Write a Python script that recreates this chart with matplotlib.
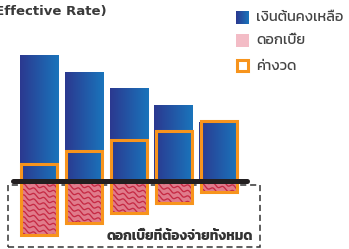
import numpy as np
import matplotlib
matplotlib.use("Agg")
import matplotlib.pyplot as plt
from matplotlib import font_manager
from matplotlib.font_manager import FontProperties
from matplotlib.patches import Rectangle
from matplotlib.colors import LinearSegmentedColormap

# values (pixel-ish units above / below the baseline)
periods = [1, 2, 3, 4, 5]
remaining = [126, 109, 93, 76, 59]        # เงินต้นคงเหลือ
principal_paid = [17, 30, 41, 50, 60]
interest = [54, 42, 32, 22, 11]           # ดอกเบี้ย
installment = [p + i for p, i in zip(principal_paid, interest)]  # ค่างวด
title = "(Effective Rate)"
legend_labels = ["เงินต้นคงเหลือ", "ดอกเบี้ย", "ค่างวด"]
total_label = "ดอกเบี้ยที่ต้องจ่ายทั้งหมด"

fonts = font_manager.fontManager.ttflist
names = {f.name for f in fonts}


def pick(prefs):
    for n in prefs:
        if n in names:
            return n
    return "DejaVu Sans"


thai = pick(["Kanit", "Prompt", "Mitr", "Athiti", "Bai Jamjuree", "K2D",
             "Noto Sans Thai", "Sarabun"])

# bold geometric face for the title, if a static bold file exists
title_fp = FontProperties(family="DejaVu Sans", weight="bold", size=9.5)
for f in fonts:
    if f.name == "Montserrat" and f.fname.endswith("Montserrat-Bold.ttf"):
        title_fp = FontProperties(fname=f.fname, size=10.5)
        break

blue_cmap = LinearSegmentedColormap.from_list("b", ["#2B3990", "#1A74BB"])
orange = "#F7941D"
pink = "#E07B8B"
wave = "#C62A44"

fig = plt.figure(figsize=(3.49, 2.49), dpi=100)
ax = fig.add_axes([0, 0, 1, 1])
ax.axis("off")
step = 44.75
x = np.arange(len(periods))
w_bar = 39 / step
w_box = 36 / step

grad = np.linspace(0, 1, 64).reshape(1, -1)
bars = ax.bar(x, remaining, width=w_bar, color="none", zorder=2)
for b in bars:
    ax.imshow(grad, cmap=blue_cmap, aspect="auto", zorder=2,
              extent=[b.get_x(), b.get_x() + b.get_width(), 0, b.get_height()])

pinks = ax.bar(x, [-v for v in interest], width=w_box, color=pink, zorder=3,
               edgecolor="white", linewidth=0.6, linestyle=(0, (2, 2)))
# wavy texture, clipped to each pink bar
u = np.linspace(0, 40, 240)
for b in pinks:
    x0 = b.get_x()
    for c in np.arange(0, -100, -5.5):
        yy = c + 24 - 0.40 * u + 1.5 * np.sin(2 * np.pi * u / 10)
        ln, = ax.plot(x0 + u / step, yy, color=wave, lw=0.95, zorder=4)
        ln.set_clip_path(b)

ax.bar(x, installment, bottom=[-v for v in interest], width=w_box,
       fill=False, edgecolor=orange, linewidth=2.2, zorder=5)

ax.plot([x[0] - 0.59, x[-1] + 0.64], [0, 0], color="#231F20", lw=3.6,
        solid_capstyle="round", zorder=6)

ax.add_patch(Rectangle((x[0] - 0.704, -66), 5.631, 62, fill=False,
                       edgecolor="#333333", lw=1.1, ls=(0, (4, 2.5)), zorder=1))
ax.text(x[-1] + 0.78, -55, total_label, ha="right", va="center",
        fontsize=9.8, fontweight="bold", color="#333333", family=[thai, "DejaVu Sans"])
ax.set_xlim(-39.5 / step, (349 - 39.5) / step)
ax.set_ylim(-68, 181)

# legend + title in pixel coords
lg = fig.add_axes([0, 0, 1, 1])
lg.axis("off")
lg.imshow(grad, cmap=blue_cmap, aspect="auto", extent=[236, 249, 24, 11])
lg.add_patch(Rectangle((236, 34), 13, 13, facecolor="#F3BCC6", edgecolor="none",
                       hatch="xxxx", lw=0))
lg.add_patch(Rectangle((237, 60), 11, 11, facecolor="white", edgecolor=orange, lw=2.2))
for yy, lab in zip([17.5, 40.5, 66], legend_labels):
    lg.text(256, yy, lab, ha="left", va="center", fontsize=10.5, color="#444444",
            fontweight="normal", family=[thai, "DejaVu Sans"])
lg.text(107, 11, title, ha="right", va="center", fontproperties=title_fp,
        color="#3A3A3A")
lg.set_xlim(0, 349)
lg.set_ylim(249, 0)

fig.savefig("out.png", dpi=100)
